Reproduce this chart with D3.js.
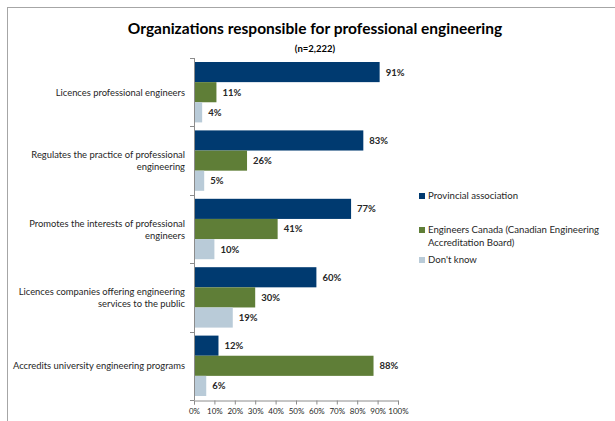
<!DOCTYPE html>
<html>
<head>
<meta charset="utf-8">
<script src="https://cdn.jsdelivr.net/npm/d3@7"></script>
<style>
  body { margin: 0; background: #fff; }
  svg { display: block; font-family: Lato, "Open Sans", sans-serif; }
</style>
</head>
<body>
<svg id="chart" width="615" height="421"></svg>
<script>
// categories, top to bottom
const categories = [
  ["Licences professional engineers"],
  ["Regulates the practice of professional", "engineering"],
  ["Promotes the interests of professional", "engineers"],
  ["Licences companies offering engineering", "services to the public"],
  ["Accredits university engineering programs"]
];
const series = ["Provincial association", "Engineers Canada (Canadian Engineering Accreditation Board)", "Don't know"];
const legendLines = [["Provincial association"], ["Engineers Canada (Canadian Engineering", "Accreditation Board)"], ["Don't know"]];
const provincial = [91, 83, 77, 60, 12];
const engCanada = [11, 26, 41, 30, 88];
const dontKnow = [4, 5, 10, 19, 6];
const colors = ["#003a70", "#5f7e37", "#b9cbd8"];
const xTicks = [0, 10, 20, 30, 40, 50, 60, 70, 80, 90, 100];

const svg = d3.select("#chart");

// outer frame
svg.append("rect")
    .attr("x", 7.5).attr("y", 7.5)
    .attr("width", 620).attr("height", 430)
    .attr("fill", "none")
    .attr("stroke", "#a6a6a6");

svg.append("text")
    .attr("x", 315).attr("y", 34)
    .attr("text-anchor", "middle")
    .attr("font-size", 15.5).attr("font-weight", "bold")
    .attr("fill", "#000")
    .text("Organizations responsible for professional engineering");

svg.append("text")
    .attr("x", 315).attr("y", 52)
    .attr("text-anchor", "middle")
    .attr("font-size", 9.5).attr("font-weight", "bold")
    .attr("fill", "#000")
    .text("(n=2,222)");

var x = d3.scaleLinear().domain([0, 100]).range([194, 398]);
var y = d3.scaleBand().domain(d3.range(categories.length)).range([58, 400]);
var ySub = d3.scaleBand().domain(d3.range(3)).range([4, y.bandwidth() - 4]);

var rows = categories.map((c, i) => [provincial[i], engCanada[i], dontKnow[i]]);

var groups = svg.append("g").selectAll("g")
    .data(rows)
  .enter().append("g")
    .attr("transform", (d, i) => "translate(0," + y(i) + ")");

groups.selectAll("rect")
    .data(d => d)
  .enter().append("rect")
    .attr("x", x(0))
    .attr("y", (d, j) => ySub(j))
    .attr("width", d => x(d) - x(0))
    .attr("height", ySub.bandwidth())
    .attr("fill", (d, j) => colors[j]);

groups.selectAll("text.val")
    .data(d => d)
  .enter().append("text")
    .attr("class", "val")
    .attr("x", d => x(d) + 6)
    .attr("y", (d, j) => ySub(j) + ySub.bandwidth() / 2 + 3.5)
    .attr("font-size", 9.5).attr("font-weight", "bold")
    .attr("fill", "#262626")
    .text(d => d + "%");

// category labels
svg.append("g").selectAll("text")
    .data(categories)
  .enter().append("text")
    .attr("text-anchor", "end")
    .attr("font-size", 9.4)
    .attr("fill", "#262626")
    .attr("y", (d, i) => y(i) + y.bandwidth() / 2 + 3.5 - (d.length - 1) * 6)
    .each(function(d) {
      d3.select(this).selectAll("tspan")
        .data(d)
        .enter().append("tspan")
          .attr("x", 185)
          .attr("dy", (t, k) => k ? 12 : 0)
          .text(t => t);
    });

// y axis with ticks between groups
var axisColor = "#8c8c8c";
svg.append("line")
    .attr("x1", x(0) + 0.5).attr("x2", x(0) + 0.5)
    .attr("y1", 58).attr("y2", 400)
    .attr("stroke", axisColor);
svg.append("g").selectAll("line")
    .data(d3.range(categories.length + 1))
  .enter().append("line")
    .attr("x1", x(0) - 4).attr("x2", x(0) + 0.5)
    .attr("y1", i => Math.round(58 + i * y.step()) + 0.5)
    .attr("y2", i => Math.round(58 + i * y.step()) + 0.5)
    .attr("stroke", axisColor);

// x axis
var xAxis = svg.append("g")
    .attr("transform", "translate(0,400.5)")
    .call(d3.axisBottom(x).tickValues(xTicks).tickSize(4).tickPadding(4).tickFormat(d => d + "%"));
xAxis.select(".domain").attr("stroke", axisColor);
xAxis.selectAll(".tick line").attr("stroke", axisColor);
xAxis.selectAll(".tick text")
    .attr("font-family", "Lato, sans-serif")
    .attr("font-size", 8)
    .attr("fill", "#262626");

// legend
var legendY = [199, 233, 263];
var legend = svg.append("g").selectAll("g")
    .data(legendLines)
  .enter().append("g")
    .attr("transform", (d, i) => "translate(419," + legendY[i] + ")");
legend.append("rect")
    .attr("x", 0).attr("y", -6)
    .attr("width", 6).attr("height", 6)
    .attr("fill", (d, i) => colors[i]);
legend.append("text")
    .attr("font-size", 9.6)
    .attr("fill", "#262626")
    .each(function(d) {
      d3.select(this).selectAll("tspan")
        .data(d)
        .enter().append("tspan")
          .attr("x", 9)
          .attr("dy", (t, k) => k ? 12.5 : 0)
          .text(t => t);
    });
</script>
</body>
</html>
